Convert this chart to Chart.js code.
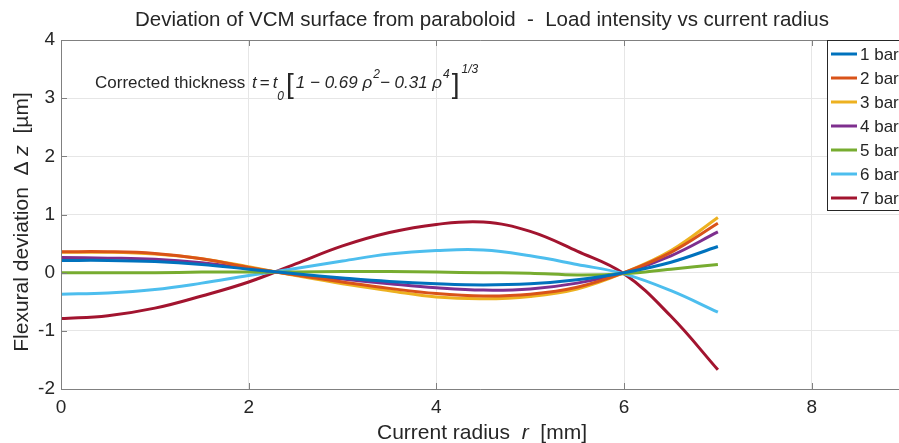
<!DOCTYPE html>
<html>
<head>
<meta charset="utf-8">
<script src="https://cdn.jsdelivr.net/npm/chart.js@4.4.1/dist/chart.umd.min.js"></script>
<style>
    html, body { margin: 0; padding: 0; background: #fff; }
    #wrap { width: 899px; height: 443px; }
</style>
</head>
<body>
<div id="wrap"><canvas id="chart" width="899" height="443"></canvas></div>
<script>
// Data (radius in mm, deviation in µm)
const radius = [0, 0.5, 1, 1.5, 2, 2.5, 3, 3.5, 4, 4.5, 5, 5.5, 6, 6.5, 7];
const bar1 = [0.21, 0.21, 0.19, 0.14, 0.06, -0.02, -0.09, -0.15, -0.19, -0.21, -0.19, -0.12, 0.00, 0.18, 0.45];
const bar2 = [0.36, 0.36, 0.33, 0.24, 0.09, -0.04, -0.16, -0.27, -0.36, -0.40, -0.37, -0.25, 0.00, 0.35, 0.85];
const bar3 = [0.35, 0.35, 0.32, 0.24, 0.10, -0.05, -0.19, -0.31, -0.42, -0.45, -0.41, -0.28, 0.00, 0.38, 0.95];
const bar4 = [0.26, 0.25, 0.23, 0.17, 0.07, -0.03, -0.11, -0.19, -0.26, -0.30, -0.28, -0.18, 0.00, 0.29, 0.70];
const bar5 = [0.00, 0.00, 0.00, 0.01, 0.01, 0.01, 0.02, 0.02, 0.01, 0.00, -0.01, -0.04, -0.02, 0.06, 0.14];
const bar6 = [-0.37, -0.35, -0.29, -0.18, -0.05, 0.07, 0.20, 0.32, 0.38, 0.39, 0.29, 0.14, -0.02, -0.31, -0.68];
const bar7 = [-0.79, -0.74, -0.61, -0.40, -0.16, 0.15, 0.46, 0.69, 0.83, 0.87, 0.71, 0.37, -0.02, -0.75, -1.67];

const seriesLabels = ['1 bar', '2 bar', '3 bar', '4 bar', '5 bar', '6 bar', '7 bar'];
const seriesValues = [bar1, bar2, bar3, bar4, bar5, bar6, bar7];
const seriesColors = ['#0072BD', '#D95319', '#EDB120', '#7E2F8E', '#77AC30', '#4DBEEE', '#A2142F'];

const xTicks = [0, 2, 4, 6, 8];
const yTicks = [-2, -1, 0, 1, 2, 3, 4];

const FONT = '"Liberation Sans", Arial, sans-serif';
const TEXT = '#262626';

// draws a run of [text, font, dy, gap] pieces one after the other
function drawPieces(ctx, pieces, x, y) {
    pieces.forEach(p => {
        ctx.font = p[1];
        ctx.fillText(p[0], x, y + (p[2] || 0));
        x += ctx.measureText(p[0]).width + (p[3] || 0);
    });
    return x;
}
function piecesWidth(ctx, pieces) {
    let w = 0;
    pieces.forEach(p => {
        ctx.font = p[1];
        w += ctx.measureText(p[0]).width + (p[3] || 0);
    });
    return w;
}

const decor = {
    id: 'decor',
    afterDraw(chart) {
        const ctx = chart.ctx;
        const a = chart.chartArea;
        const xs = chart.scales.x, ys = chart.scales.y;
        ctx.save();

        // axes box + inward ticks
        ctx.strokeStyle = '#808080';
        ctx.lineWidth = 1;
        ctx.beginPath();
        ctx.moveTo(a.left + 0.5, a.top + 0.5);
        ctx.lineTo(a.left + 0.5, a.bottom + 0.5);
        ctx.lineTo(a.right, a.bottom + 0.5);
        ctx.moveTo(a.left + 0.5, a.top + 0.5);
        ctx.lineTo(a.right, a.top + 0.5);
        yTicks.forEach(v => {
            const py = Math.round(ys.getPixelForValue(v)) + 0.5;
            ctx.moveTo(a.left, py);
            ctx.lineTo(a.left + 6, py);
        });
        xTicks.forEach(v => {
            const px = Math.round(xs.getPixelForValue(v)) + 0.5;
            ctx.moveTo(px, a.bottom);
            ctx.lineTo(px, a.bottom - 6);
            ctx.moveTo(px, a.top);
            ctx.lineTo(px, a.top + 6);
        });
        ctx.stroke();

        ctx.fillStyle = TEXT;
        ctx.textBaseline = 'alphabetic';
        ctx.textAlign = 'left';

        // title
        ctx.font = '20.5px ' + FONT;
        ctx.textAlign = 'center';
        ctx.fillText('Deviation of VCM surface from paraboloid  -  Load intensity vs current radius', 482, 26);
        ctx.textAlign = 'left';

        // x axis title
        const xt = [
            ['Current radius  ', '21px ' + FONT],
            ['r', 'italic 21px ' + FONT],
            ['  [mm]', '21px ' + FONT]
        ];
        drawPieces(ctx, xt, 482 - piecesWidth(ctx, xt) / 2, 439);

        // y axis title
        const yt = [
            ['Flexural deviation  \u0394', '21px ' + FONT],
            [' z', 'italic 21px ' + FONT],
            ['  [\u00b5m]', '21px ' + FONT]
        ];
        ctx.save();
        ctx.translate(28, 222);
        ctx.rotate(-Math.PI / 2);
        drawPieces(ctx, yt, -piecesWidth(ctx, yt) / 2, 0);
        ctx.restore();

        // annotation
        ctx.font = '17px ' + FONT;
        ctx.fillText('Corrected thickness', 95, 88);
        const it = 'italic 17px ' + FONT;
        const sm = 'italic 12px ' + FONT;
        const br = '28px ' + FONT;
        drawPieces(ctx, [
            ['t', it, 0, 3],
            ['=', '17px ' + FONT, 0, 3],
            ['t', it, 0, 0],
            ['0', sm, 12, 2],
            ['[', br, 5, 2],
            ['1 \u2212 0.69 \u03c1', it, 0, 1],
            ['2', sm, -10, 0],
            ['\u2212 0.31 \u03c1', it, 0, 1],
            ['4', sm, -10, 2],
            [']', br, 5, 2],
            ['1/3', sm, -15, 0]
        ], 252, 88);

        // legend
        ctx.fillStyle = '#fff';
        ctx.fillRect(827, 40, 80, 170);
        ctx.strokeStyle = '#262626';
        ctx.lineWidth = 1;
        ctx.strokeRect(827.5, 40.5, 80, 170);
        ctx.font = '17px ' + FONT;
        ctx.textBaseline = 'middle';
        seriesLabels.forEach((lab, i) => {
            const y = 54 + i * 24;
            ctx.strokeStyle = seriesColors[i];
            ctx.lineWidth = 3;
            ctx.beginPath();
            ctx.moveTo(831, y);
            ctx.lineTo(857, y);
            ctx.stroke();
            ctx.fillStyle = TEXT;
            ctx.fillText(lab, 860, y + 1);
        });
        ctx.restore();
    }
};

new Chart(document.getElementById('chart'), {
    type: 'line',
    data: {
        datasets: seriesValues.map((vals, i) => ({
            label: seriesLabels[i],
            data: radius.map((r, j) => ({ x: r, y: vals[j] })),
            borderColor: seriesColors[i],
            borderWidth: 3,
            pointRadius: 0,
            fill: false,
            tension: 0.4
        }))
    },
    options: {
        responsive: false,
        animation: false,
        layout: { padding: { top: 40, right: 0, bottom: 0, left: 0 } },
        plugins: {
            legend: { display: false },
            tooltip: { enabled: false },
            title: { display: false }
        },
        scales: {
            x: {
                type: 'linear',
                min: 0,
                max: 8.93,
                afterBuildTicks: s => { s.ticks = xTicks.map(v => ({ value: v })); },
                afterFit: s => { s.height = 54; },
                grid: { color: '#e6e6e6', drawTicks: false },
                border: { display: false },
                ticks: { color: TEXT, font: { family: FONT, size: 19 }, padding: 7, maxRotation: 0 }
            },
            y: {
                min: -2,
                max: 4,
                afterBuildTicks: s => { s.ticks = yTicks.map(v => ({ value: v })); },
                afterFit: s => { s.width = 61; },
                grid: { color: '#e6e6e6', drawTicks: false },
                border: { display: false },
                ticks: { color: TEXT, font: { family: FONT, size: 19 }, padding: 6 }
            }
        }
    },
    plugins: [decor]
});
</script>
</body>
</html>
